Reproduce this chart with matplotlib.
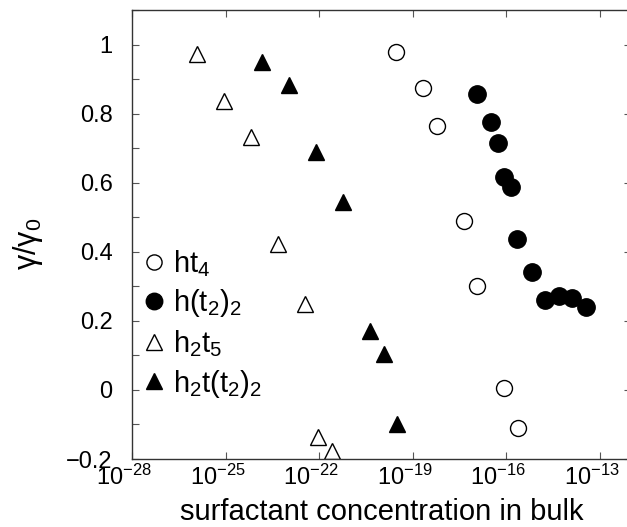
import matplotlib
matplotlib.use('Agg')
from matplotlib import pyplot
from matplotlib.ticker import FixedLocator, MultipleLocator, NullLocator
import matplotlib.transforms as mtransforms
import numpy as np

pyplot.rcParams['font.family'] = ['Liberation Sans', 'DejaVu Sans']
pyplot.rcParams['mathtext.fontset'] = 'custom'
pyplot.rcParams['mathtext.rm'] = 'Liberation Sans'
pyplot.rcParams['mathtext.it'] = 'Liberation Sans:italic'
pyplot.rcParams['mathtext.default'] = 'regular'

# log10 of bulk concentration, and surface tension ratio gamma/gamma0
ht4_logc = [-19.55, -18.66, -18.23, -17.36, -16.93, -16.07, -15.63]
ht4_gam = [0.979, 0.873, 0.765, 0.490, 0.302, 0.005, -0.111]

ht22_logc = [-16.93, -16.50, -16.28, -16.07, -15.85, -15.64, -15.19,
             -14.77, -14.32, -13.90, -13.45]
ht22_gam = [0.857, 0.775, 0.714, 0.617, 0.588, 0.437, 0.342,
            0.260, 0.272, 0.265, 0.239]

h2t5_logc = [-25.93, -25.05, -24.20, -23.31, -22.46, -22.03, -21.60]
h2t5_gam = [0.973, 0.837, 0.733, 0.422, 0.249, -0.135, -0.176]

h2tt2_logc = [-23.84, -22.97, -22.10, -21.23, -20.37, -19.92, -19.50]
h2tt2_gam = [0.949, 0.883, 0.690, 0.543, 0.171, 0.104, -0.099]

labels = ['ht$_4$', 'h(t$_2$)$_2$', 'h$_2$t$_5$', 'h$_2$t(t$_2$)$_2$']
xtick_exps = [-28, -25, -22, -19, -16, -13]
ytick_vals = [-0.2, 0, 0.2, 0.4, 0.6, 0.8, 1.0]
ytick_text = ['\u22120.2', '0', '0.2', '0.4', '0.6', '0.8', '1']

fig = pyplot.figure(figsize=(6.27, 5.27), dpi=100)
ax = fig.add_axes([132/627., 68/527., 499/627., 449/527.])

ax.plot(10.0**np.array(ht4_logc), ht4_gam, 'o', ms=11.5, mfc='white',
        mec='black', mew=1.0, ls='none', label=labels[0])
ax.plot(10.0**np.array(ht22_logc), ht22_gam, 'o', ms=12.5, mfc='black',
        mec='black', ls='none', label=labels[1])
ax.plot(10.0**np.array(h2t5_logc), h2t5_gam, '^', ms=12, mfc='white',
        mec='black', mew=1.0, ls='none', label=labels[2])
ax.plot(10.0**np.array(h2tt2_logc), h2tt2_gam, '^', ms=12, mfc='black',
        mec='black', ls='none', label=labels[3])

ax.set_xscale('log')
ax.set_xlim(1e-28, 1e-12)
ax.set_ylim(-0.2, 1.1)

ax.xaxis.set_major_locator(FixedLocator([10.0**e for e in xtick_exps]))
ax.xaxis.set_minor_locator(NullLocator())
ax.set_xticklabels(['$10^{%d}$' % e for e in xtick_exps])
ax.set_yticks(ytick_vals)
ax.set_yticklabels(ytick_text)
ax.yaxis.set_minor_locator(MultipleLocator(0.1))

for sp in ax.spines.values():
    sp.set_linewidth(1.0)
    sp.set_color('#333333')

ax.tick_params(axis='both', which='both', direction='in', length=5,
               width=0.8, color='#555555', labelsize=17)
ax.tick_params(axis='x', which='major', top=True, pad=4)
ax.tick_params(axis='y', which='major', right=True, pad=14)
ax.tick_params(axis='y', which='minor', left=True, right=False)

# shift x tick labels so the base sits under the tick
offset = mtransforms.ScaledTranslation(-8/100., 0, fig.dpi_scale_trans)
for lbl in ax.get_xticklabels():
    lbl.set_transform(lbl.get_transform() + offset)

ax.set_xlabel('surfactant concentration in bulk', fontsize=21, labelpad=6)
ax.set_ylabel(r'$\gamma/\gamma_0$', fontsize=22, math_fontfamily='stix')
ax.yaxis.set_label_coords(-0.175, 0.48)

leg = ax.legend(loc='upper left', bbox_to_anchor=(0.01, 0.49), frameon=False,
                fontsize=21, handlelength=0.6, handletextpad=0.35,
                labelspacing=0.3, borderpad=0.3, borderaxespad=0.0,
                markerscale=0.95)

fig.savefig('out.png', dpi=100)
